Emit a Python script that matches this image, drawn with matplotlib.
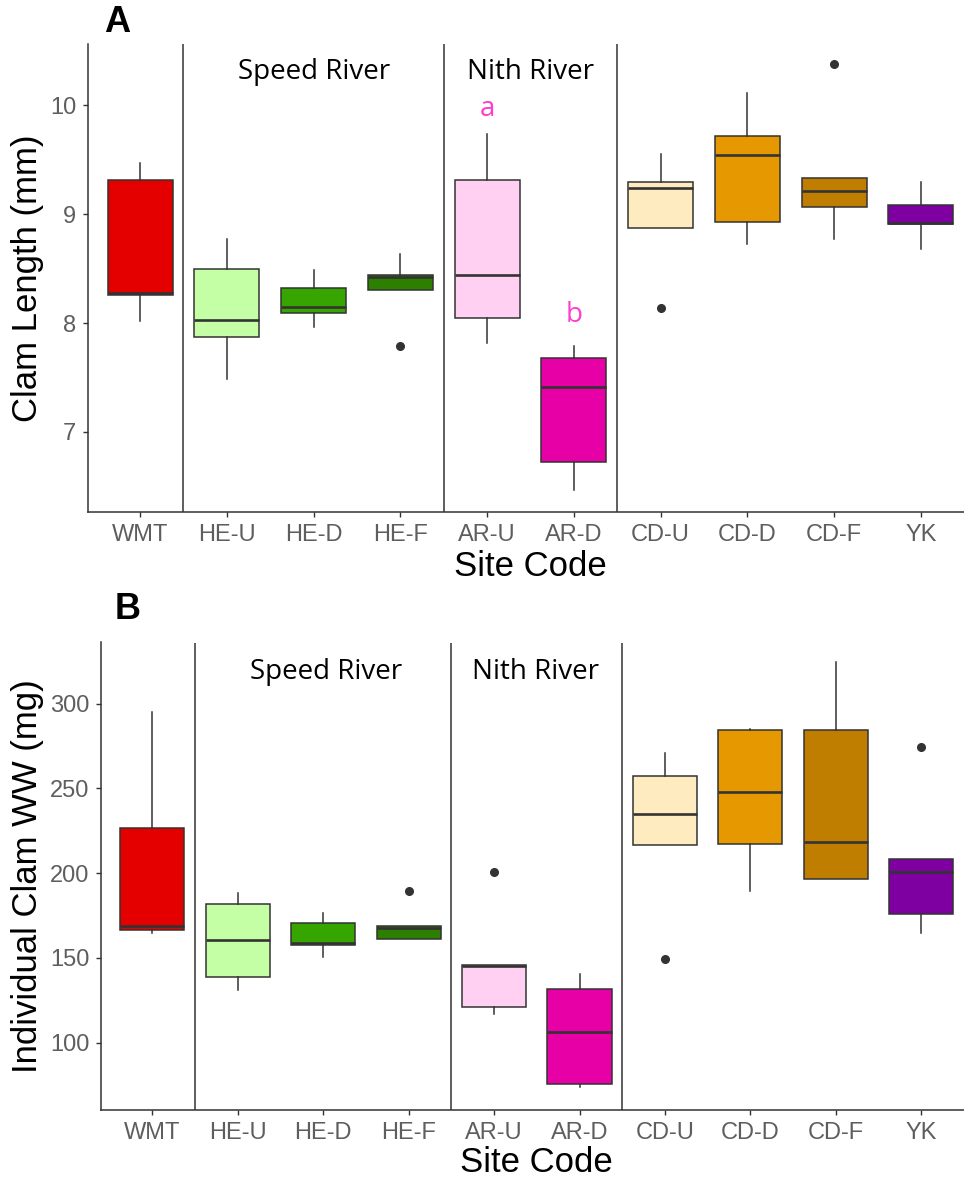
import matplotlib
matplotlib.use("Agg")
import matplotlib.pyplot as plt

# ---------------- data ----------------
sites = ["WMT", "HE-U", "HE-D", "HE-F", "AR-U", "AR-D", "CD-U", "CD-D", "CD-F", "YK"]
box_colors = ["#E50000", "#C5FFA5", "#37A500", "#2D7F00", "#FFD0F2",
              "#E600A5", "#FFEBC0", "#E69800", "#BF7E00", "#7F00A0"]

# Panel A: clam length (mm)
len_whislo = [8.02, 7.49, 7.96, 8.30, 7.82, 6.47, 8.87, 8.73, 8.77, 8.68]
len_q1     = [8.26, 7.87, 8.09, 8.30, 8.05, 6.72, 8.87, 8.93, 9.07, 8.91]
len_med    = [8.28, 8.03, 8.15, 8.42, 8.44, 7.41, 9.24, 9.54, 9.21, 8.92]
len_q3     = [9.31, 8.50, 8.32, 8.44, 9.31, 7.68, 9.30, 9.72, 9.33, 9.08]
len_whishi = [9.47, 8.77, 8.49, 8.63, 9.74, 7.79, 9.55, 10.11, 9.33, 9.30]
len_fliers = [[], [], [], [7.79], [], [], [8.14], [], [10.38], []]

# Panel B: individual clam wet weight (mg)
ww_whislo = [164.5, 131.3, 150.6, 161.2, 117.0, 73.8, 216.3, 189.6, 196.6, 164.5]
ww_q1     = [166.3, 138.9, 157.7, 161.2, 120.7, 75.8, 216.3, 217.2, 196.6, 175.8]
ww_med    = [168.5, 160.6, 159.0, 167.6, 145.3, 106.3, 234.9, 248.0, 218.3, 200.6]
ww_q3     = [226.8, 181.8, 170.5, 168.5, 145.5, 131.8, 257.0, 284.3, 284.3, 208.4]
ww_whishi = [295.2, 188.0, 176.7, 168.5, 145.5, 140.4, 270.8, 285.2, 324.6, 208.4]
ww_fliers = [[], [], [], [189.6], [200.9], [], [149.1], [], [], [274.1]]

river_labels = ["Speed River", "Nith River"]
letters_A = ["a", "b"]

# ---------------- figure ----------------
W, H = 964, 1178
fig = plt.figure(figsize=(W / 100, H / 100), dpi=100)

EDGE = "#333333"
TICKC = "#5E5E5E"


def px_axes(left, top, right, bottom):
    return [left / W, 1 - bottom / H, (right - left) / W, (bottom - top) / H]


def make_panel(rect, whislo, q1, med, q3, whishi, fliers, ylim, yticks,
               rivers_xy, ylabel, xlabel_y, ylabel_x):
    ax = fig.add_axes(rect)
    stats = []
    for i in range(len(sites)):
        stats.append(dict(whislo=whislo[i], q1=q1[i], med=med[i], q3=q3[i],
                          whishi=whishi[i], fliers=fliers[i], label=sites[i]))
    pos = list(range(1, len(sites) + 1))
    bp = ax.bxp(stats, positions=pos, widths=0.75, patch_artist=True,
                showcaps=False,
                boxprops=dict(edgecolor=EDGE, linewidth=1.1),
                medianprops=dict(color=EDGE, linewidth=1.9),
                whiskerprops=dict(color=EDGE, linewidth=1.1),
                flierprops=dict(marker="o", markerfacecolor=EDGE,
                                markeredgecolor=EDGE, markersize=5.5))
    for patch, c in zip(bp["boxes"], box_colors):
        patch.set_facecolor(c)
    for xv in [1.5, 4.5, 6.5]:
        ax.axvline(xv, color=EDGE, linewidth=1.1, zorder=1)
    ax.set_xlim(0.4, 10.6)
    ax.set_ylim(*ylim)
    ax.set_yticks(yticks)
    ax.set_xticks(pos)
    ax.set_xticklabels(sites)
    for s in ["top", "right"]:
        ax.spines[s].set_visible(False)
    for s in ["left", "bottom"]:
        ax.spines[s].set_color(EDGE)
        ax.spines[s].set_linewidth(1.1)
    ax.tick_params(axis="both", length=3.8, width=1.0, color=EDGE,
                   labelsize=17, labelcolor=TICKC, pad=4.5)
    for lab in ax.get_xticklabels() + ax.get_yticklabels():
        lab.set_fontfamily("Liberation Sans")
    for (x, y), txt in zip(rivers_xy, river_labels):
        ax.text(x, y, txt, ha="center", va="center", fontsize=20,
                family="Open Sans", color="black")
    # axis titles
    l, b, w, h = rect
    fig.text(l + w / 2, 1 - xlabel_y / H, "Site Code", ha="center", va="center",
             fontsize=25, family="Liberation Sans", color="black")
    fig.text(ylabel_x / W, b + h / 2, ylabel, ha="center", va="center",
             rotation=90, fontsize=25, family="Liberation Sans", color="black")
    return ax


axA = make_panel(px_axes(88, 44.4, 973, 512.4), len_whislo, len_q1, len_med,
                 len_q3, len_whishi, len_fliers, (6.26, 10.56), [7, 8, 9, 10],
                 [(3.0, 10.31), (5.5, 10.31)], "Clam Length (mm)", 566, 28)
axA.text(5, 9.97, letters_A[0], ha="center", va="center", fontsize=20,
         family="Open Sans", color="#FF3DCB")
axA.text(6, 8.07, letters_A[1], ha="center", va="center", fontsize=20,
         family="Open Sans", color="#FF3DCB")

axB = make_panel(px_axes(101, 642.5, 972.6, 1110.4), ww_whislo, ww_q1, ww_med,
                 ww_q3, ww_whishi, ww_fliers, (60, 336), [100, 150, 200, 250, 300],
                 [(3.03, 318.5), (5.48, 318.5)], "Individual Clam WW (mg)", 1162, 28)

fig.text(117 / W, 1 - 22 / H, "A", ha="center", va="center", fontsize=26,
         fontweight="bold", family="Liberation Sans")
fig.text(128 / W, 1 - 609 / H, "B", ha="center", va="center", fontsize=26,
         fontweight="bold", family="Liberation Sans")

fig.savefig("out.png", dpi=100)
